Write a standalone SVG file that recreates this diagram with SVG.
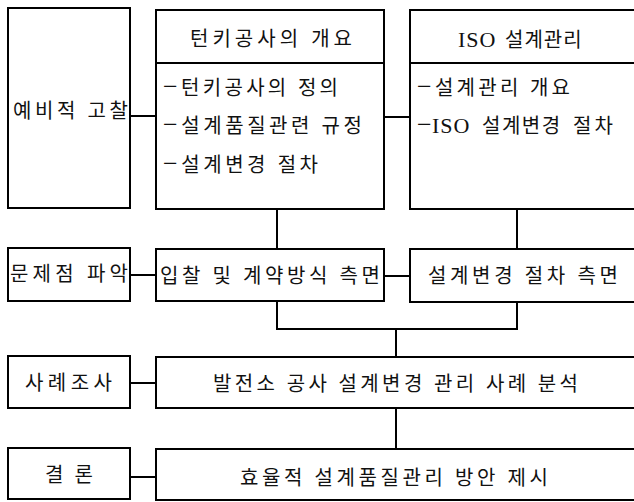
<svg xmlns="http://www.w3.org/2000/svg" width="634" height="502" viewBox="0 0 634 502">
  <style>
    .box { fill: #ffffff; stroke: #000000; stroke-width: 2; }
    .line { fill: none; stroke: #000000; stroke-width: 2; }
    text { font-family: "Liberation Serif", "Noto Sans CJK KR", serif; font-size: 20px; fill: #111111; }
    .dash { font-size: 26px; }
    .latin { font-size: 22px; letter-spacing: 1px; }
  </style>
  <rect x="0" y="0" width="634" height="502" fill="#ffffff"/>

  <!-- connectors -->
  <g id="connectors">
    <line class="line" x1="130" y1="116" x2="156" y2="116"/>
    <line class="line" x1="384" y1="117" x2="410" y2="117"/>
    <line class="line" x1="277" y1="209" x2="277" y2="249"/>
    <line class="line" x1="517" y1="209" x2="517" y2="249"/>
    <line class="line" x1="130" y1="275" x2="156" y2="275"/>
    <line class="line" x1="384" y1="276" x2="410" y2="276"/>
    <polyline class="line" points="277,301 277,329 517,329 517,302"/>
    <line class="line" x1="396" y1="329" x2="396" y2="357"/>
    <line class="line" x1="130" y1="383" x2="156" y2="383"/>
    <line class="line" x1="396" y1="408" x2="396" y2="449"/>
    <line class="line" x1="130" y1="477" x2="156" y2="477"/>
  </g>

  <!-- row 1 -->
  <g id="preliminary">
    <rect class="box" x="8" y="8" width="122" height="200"/>
    <text x="13" y="118" textLength="115" lengthAdjust="spacing">예비적 고찰</text>
  </g>
  <g id="turnkey-overview">
    <rect class="box" x="156" y="10" width="228" height="199"/>
    <line class="line" x1="156" y1="63" x2="384" y2="63"/>
    <text x="190" y="46" textLength="162" lengthAdjust="spacing">턴키공사의 개요</text>
    <text x="163" y="94.5" textLength="175" lengthAdjust="spacing"><tspan class="dash">−</tspan>턴키공사의 정의</text>
    <text x="163" y="133" textLength="199" lengthAdjust="spacing"><tspan class="dash">−</tspan>설계품질관련 규정</text>
    <text x="163" y="172" textLength="155" lengthAdjust="spacing"><tspan class="dash">−</tspan>설계변경 절차</text>
  </g>
  <g id="iso-design">
    <rect class="box" x="410" y="10" width="226" height="199"/>
    <line class="line" x1="410" y1="63" x2="636" y2="63"/>
    <text x="458" y="47"><tspan class="latin">ISO </tspan><tspan x="505" letter-spacing="1">설계관리</tspan></text>
    <text x="417" y="95" textLength="153" lengthAdjust="spacing"><tspan class="dash">−</tspan>설계관리 개요</text>
    <text x="417" y="133"><tspan class="dash">−</tspan><tspan x="432" class="latin">ISO </tspan><tspan x="482" letter-spacing="1.5">설계변경 </tspan><tspan x="573" letter-spacing="3">절차</tspan></text>
  </g>

  <!-- row 2 -->
  <g id="problems">
    <rect class="box" x="8" y="248" width="122" height="53"/>
    <text x="10" y="281" textLength="118" lengthAdjust="spacing">문제점 파악</text>
  </g>
  <g id="bidding">
    <rect class="box" x="156" y="249" width="228" height="52"/>
    <text x="160" y="283" textLength="220" lengthAdjust="spacing">입찰 및 계약방식 측면</text>
  </g>
  <g id="change-procedure">
    <rect class="box" x="410" y="249" width="226" height="53"/>
    <text x="428" y="283" textLength="190" lengthAdjust="spacing">설계변경 절차 측면</text>
  </g>

  <!-- row 3 -->
  <g id="case-study">
    <rect class="box" x="8" y="356" width="122" height="52"/>
    <text x="25" y="389.5" textLength="87" lengthAdjust="spacing">사례조사</text>
  </g>
  <g id="case-analysis">
    <rect class="box" x="156" y="357" width="480" height="51"/>
    <text x="213" y="391" textLength="365" lengthAdjust="spacing">발전소 공사 설계변경 관리 사례 분석</text>
  </g>

  <!-- row 4 -->
  <g id="conclusion">
    <rect class="box" x="8" y="448" width="122" height="51"/>
    <text x="45" y="482" textLength="48" lengthAdjust="spacing">결 론</text>
  </g>
  <g id="proposal">
    <rect class="box" x="156" y="449" width="480" height="51"/>
    <text x="240" y="485" textLength="308" lengthAdjust="spacing">효율적 설계품질관리 방안 제시</text>
  </g>
</svg>
